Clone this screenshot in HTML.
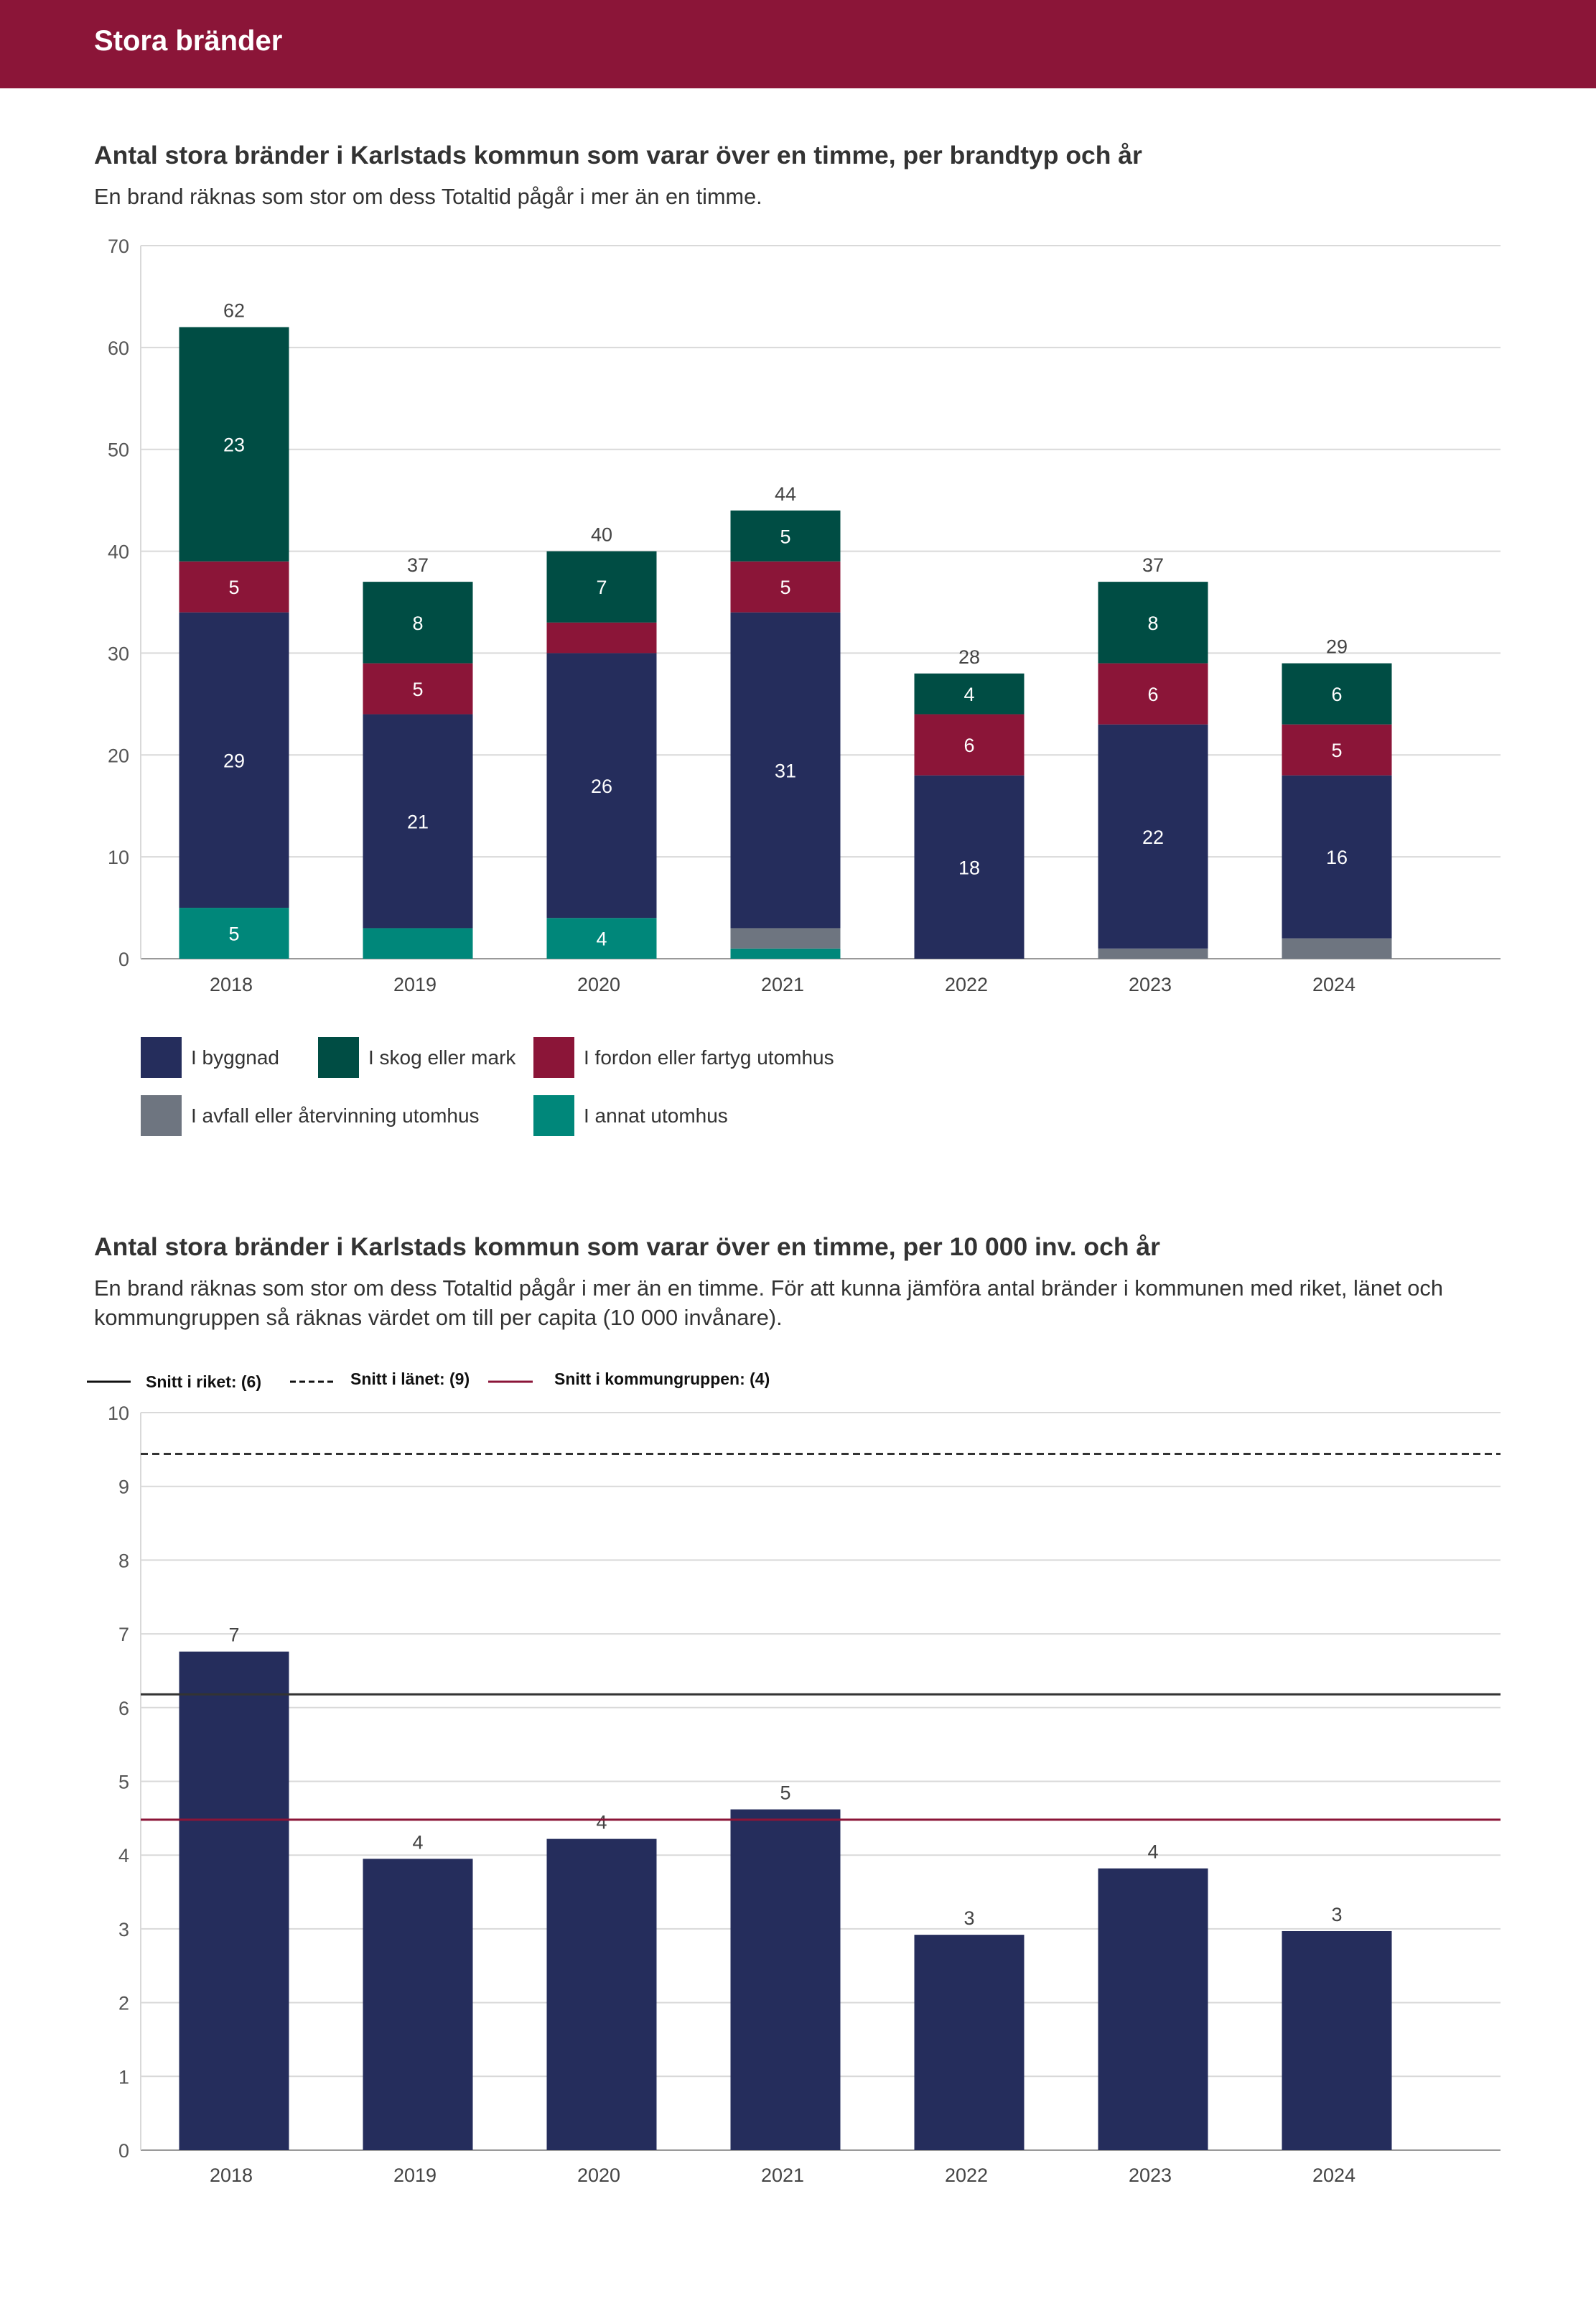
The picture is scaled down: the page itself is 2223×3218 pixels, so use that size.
<!DOCTYPE html>
<html><head><meta charset="utf-8"><style>
body{margin:0;background:#fff}
svg text{font-family:"Liberation Sans",sans-serif}
</style></head><body>
<svg id="page" width="2223" height="3213" xmlns="http://www.w3.org/2000/svg">
<rect x="0" y="0" width="2223" height="123" fill="#8b1538"/>
<text x="131" y="70" font-size="40" font-weight="bold" fill="#fff">Stora bränder</text>
<text x="131" y="228" font-size="35.5" font-weight="bold" fill="#333">Antal stora bränder i Karlstads kommun som varar över en timme, per brandtyp och år</text>
<text x="131" y="284" font-size="30.7" fill="#333">En brand räknas som stor om dess Totaltid pågår i mer än en timme.</text>
<g id="c1"></g>
<g>
<rect x="196" y="1444" width="57" height="57" fill="#252d5c"/>
<text x="266" y="1482" font-size="28" fill="#333">I byggnad</text>
<rect x="443" y="1444" width="57" height="57" fill="#004d44"/>
<text x="513" y="1482" font-size="28" fill="#333">I skog eller mark</text>
<rect x="743" y="1444" width="57" height="57" fill="#8b1538"/>
<text x="813" y="1482" font-size="28" fill="#333">I fordon eller fartyg utomhus</text>
<rect x="196" y="1525" width="57" height="57" fill="#6e7580"/>
<text x="266" y="1563" font-size="28" fill="#333">I avfall eller återvinning utomhus</text>
<rect x="743" y="1525" width="57" height="57" fill="#00877a"/>
<text x="813" y="1563" font-size="28" fill="#333">I annat utomhus</text>
</g>
<text x="131" y="1748" font-size="35.5" font-weight="bold" fill="#333">Antal stora bränder i Karlstads kommun som varar över en timme, per 10 000 inv. och år</text>
<text x="131" y="1804" font-size="30.8" fill="#333">En brand räknas som stor om dess Totaltid pågår i mer än en timme. För att kunna jämföra antal bränder i kommunen med riket, länet och</text>
<text x="131" y="1845" font-size="30.8" fill="#333">kommungruppen så räknas värdet om till per capita (10 000 invånare).</text>
<g>
<line x1="121" y1="1924" x2="182" y2="1924" stroke="#111" stroke-width="3"/>
<text x="203" y="1932" font-size="23" font-weight="bold" fill="#111" font-family="Liberation Sans Narrow,Liberation Sans,sans-serif">Snitt i riket: (6)</text>
<line x1="404" y1="1924" x2="465" y2="1924" stroke="#111" stroke-width="3" stroke-dasharray="8,5"/>
<text x="488" y="1928" font-size="23" font-weight="bold" fill="#111" font-family="Liberation Sans Narrow,Liberation Sans,sans-serif">Snitt i länet: (9)</text>
<line x1="680" y1="1924" x2="742" y2="1924" stroke="#8b1538" stroke-width="3"/>
<text x="772" y="1928" font-size="23" font-weight="bold" fill="#111" font-family="Liberation Sans Narrow,Liberation Sans,sans-serif">Snitt i kommungruppen: (4)</text>
</g>
<g id="c2"></g>
</svg>
<script>
const years = ["2018","2019","2020","2021","2022","2023","2024"];
const annat = [5,3,4,1,0,0,0];
const avfall = [0,0,0,2,0,1,2];
const byggnad = [29,21,26,31,18,22,16];
const fordon = [5,5,3,5,6,6,5];
const skog = [23,8,7,5,4,8,6];
const yTicks1 = [0,10,20,30,40,50,60,70];
const perCapita = [6.76,3.95,4.22,4.62,2.92,3.82,2.97];
const perCapitaLabels = ["7","4","4","5","3","4","3"];
const yTicks2 = [0,1,2,3,4,5,6,7,8,9,10];
const snittRiket = 6.18;
const snittLanet = 9.44;
const snittKommungrupp = 4.48;

const NS="http://www.w3.org/2000/svg";
function mk(tag,attrs,parent,txt){const e=document.createElementNS(NS,tag);for(const k in attrs)e.setAttribute(k,attrs[k]);if(txt!==undefined)e.textContent=txt;parent.appendChild(e);return e;}
const X0=196,X1=2090,BW=153;
function xc(i){return 326+256*i;}

// chart 1
const c1=document.getElementById('c1');
const y1=v=>1335-v*(993/70);
yTicks1.forEach(t=>{
  const l=mk('line',{x1:X0,x2:X1,y1:y1(t),y2:y1(t),stroke:t===0?'#999':'#d9d9d9','stroke-width':2},c1);
  
  
  const tx=mk('text',{x:180,y:y1(t)+10,'text-anchor':'end','font-size':27,fill:'#555'},c1,String(t));
  
  
});
const ax=mk('line',{x1:X0,x2:X0,y1:y1(70),y2:y1(0),stroke:'#d9d9d9','stroke-width':2},c1);


const series=[[annat,'#00877a','annat'],[avfall,'#6e7580','avfall'],[byggnad,'#252d5c','byggnad'],[fordon,'#8b1538','fordon'],[skog,'#004d44','skog']];
years.forEach((yr,i)=>{
  let base=0;
  series.forEach(([arr,col,nm])=>{
    const v=arr[i]; if(!v)return;
    const r=mk('rect',{x:xc(i)-BW/2,y:y1(base+v),width:BW,height:y1(base)-y1(base+v),fill:col},c1);
    
    
    if(v>=4){
      const t=mk('text',{x:xc(i),y:(y1(base)+y1(base+v))/2+10,'text-anchor':'middle','font-size':27,fill:'#fff'},c1,String(v));
      
      
    }
    base+=v;
  });
  const tt=mk('text',{x:xc(i),y:y1(base)-14,'text-anchor':'middle','font-size':27,fill:'#444'},c1,String(base));
  
  
  const xl=mk('text',{x:xc(i)-4,y:1380,'text-anchor':'middle','font-size':27,fill:'#444'},c1,yr);
  
  
});

// chart 2
const c2=document.getElementById('c2');
const y2=v=>2994-v*102.7;
yTicks2.forEach(t=>{
  const l=mk('line',{x1:X0,x2:X1,y1:y2(t),y2:y2(t),stroke:t===0?'#999':'#d9d9d9','stroke-width':2},c2);
  
  
  const tx=mk('text',{x:180,y:y2(t)+10,'text-anchor':'end','font-size':27,fill:'#555'},c2,String(t));
  
  
});
const ax2=mk('line',{x1:X0,x2:X0,y1:y2(10),y2:y2(0),stroke:'#d9d9d9','stroke-width':2},c2);


years.forEach((yr,i)=>{
  const v=perCapita[i];
  const r=mk('rect',{x:xc(i)-BW/2,y:y2(v),width:BW,height:y2(0)-y2(v),fill:'#252d5c'},c2);
  
  
  const t=mk('text',{x:xc(i),y:y2(v)-14,'text-anchor':'middle','font-size':27,fill:'#444'},c2,perCapitaLabels[i]);
  
  
  const xl=mk('text',{x:xc(i)-4,y:3038,'text-anchor':'middle','font-size':27,fill:'#444'},c2,yr);
  
  
});
const lr=mk('line',{x1:X0,x2:X1,y1:y2(snittRiket),y2:y2(snittRiket),stroke:'#333','stroke-width':3},c2);


const ll=mk('line',{x1:X0,x2:X1,y1:y2(snittLanet),y2:y2(snittLanet),stroke:'#333','stroke-width':3,'stroke-dasharray':'10,6'},c2);


const lk=mk('line',{x1:X0,x2:X1,y1:y2(snittKommungrupp),y2:y2(snittKommungrupp),stroke:'#8b1538','stroke-width':3},c2);


</script>
</body></html>
